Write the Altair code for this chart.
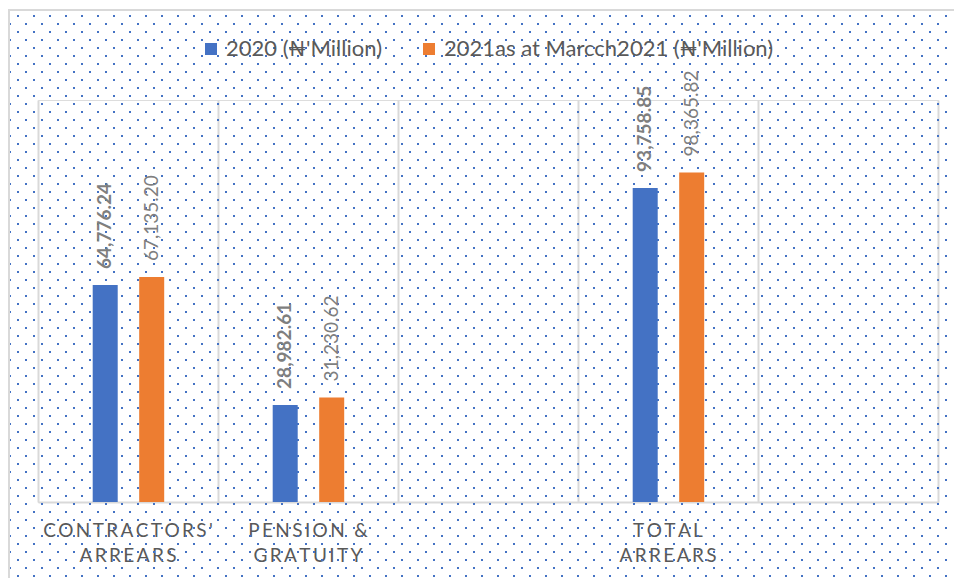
import json
import altair as alt
import pandas as pd

# ---------------- data ----------------
categories = ["CONTRACTORS' ARREARS", "PENSION & GRATUITY", "blank_a", "TOTAL ARREARS", "blank_b"]
label_line1 = ["CONTRACTORS'", "PENSION &", "", "TOTAL", ""]
label_line2 = ["ARREARS", "GRATUITY", "", "ARREARS", ""]
series = ["2020 (₦'Million)", "2021as at Marcch2021  (₦'Million)"]
values_2020 = [64776.24, 28982.61, None, 93758.85, None]
values_2021 = [67135.20, 31230.62, None, 98365.82, None]
colors = ["#4472C4", "#ED7D31"]

rows = []
for c, v1, v2 in zip(categories, values_2020, values_2021):
    if v1 is not None:
        rows.append({"category": c, "series": series[0], "value": v1})
    if v2 is not None:
        rows.append({"category": c, "series": series[1], "value": v2})
df = pd.DataFrame(rows)

# letter-spaced, two-line category labels
SP = "\u2009"
def spaced(s):
    return SP.join(list(s))

expr = "''"
for c, l1, l2 in zip(categories, label_line1, label_line2):
    if l1:
        expr = f"datum.value == {json.dumps(c)} ? [{json.dumps(spaced(l1))}, {json.dumps(spaced(l2))}] : ({expr})"

FONT = "Lato"
GRID = "#D9D9D9"

# ---------------- decorative dotted background ----------------
dots = alt.Chart(alt.sequence(0, 72 * 61, as_="i")).transform_calculate(
    row="floor(datum.i / 61)", col="datum.i % 61"
).transform_calculate(
    px="((datum.row % 2) == 0 ? 18 : 10) + 16 * datum.col - 38",
    py="16 + 8 * datum.row - 100",
).transform_filter("datum.px < 916 && datum.py < 478").mark_square(
    size=4, color="#4472C4", opacity=1
).encode(
    x=alt.X("px:Q", scale=None, axis=None),
    y=alt.Y("py:Q", scale=None, axis=None),
)

frame_df = pd.DataFrame({"k": [0]})
frame_top = alt.Chart(frame_df).mark_rule(color=GRID, strokeWidth=2).encode(
    x=alt.value(-29), x2=alt.value(916), y=alt.value(-90)
)
frame_left = alt.Chart(frame_df).mark_rule(color=GRID, strokeWidth=2).encode(
    x=alt.value(-29), y=alt.value(-91), y2=alt.value(478)
)

# ---------------- main chart ----------------
base = alt.Chart(df)
x = alt.X(
    "category:N",
    sort=categories,
    scale=alt.Scale(domain=categories, paddingInner=0, paddingOuter=0),
    axis=alt.Axis(
        title=None, grid=True, bandPosition=0, gridColor=GRID, gridWidth=2,
        domainColor=GRID, domainWidth=2, ticks=False, labelExpr=expr,
        labelFont=FONT, labelFontSize=19, labelColor="#595959", labelPadding=19,
        labelLineHeight=25, labelAngle=0, labelBaseline="top", labelLimit=0,
    ),
)
xoff = alt.XOffset(
    "series:N",
    scale=alt.Scale(domain=series, range=[54.7, 126.2], paddingInner=0.462, paddingOuter=0),
)
y = alt.Y(
    "value:Q",
    scale=alt.Scale(domain=[0, 120000], nice=False, zero=True),
    axis=alt.Axis(orient="right", labels=False, ticks=False, title=None, grid=False,
                  domainColor=GRID, domainWidth=2),
)

bars = base.mark_bar().encode(
    x=x, xOffset=xoff, y=y,
    color=alt.Color(
        "series:N",
        scale=alt.Scale(domain=series, range=colors),
        legend=alt.Legend(
            title=None, orient="none", legendX=162, legendY=-62, direction="horizontal",
            symbolType="square", symbolSize=144, symbolStrokeWidth=0,
            labelFont=FONT, labelFontSize=22, labelColor="#595959", labelLimit=0,
            labelOffset=4, columnPadding=35, padding=0,
        ),
    ),
)

t1 = base.transform_filter(alt.datum.series == series[0]).mark_text(
    angle=270, align="left", baseline="middle", dx=16,
    font=FONT, fontSize=19, fontWeight="bold", color="#7F7F7F",
).encode(x=x, xOffset=xoff, y=y, text=alt.Text("value:Q", format=",.2f"))

t2 = base.transform_filter(alt.datum.series == series[1]).mark_text(
    angle=270, align="left", baseline="middle", dx=16,
    font=FONT, fontSize=19, fontWeight="normal", color="#7F7F7F",
).encode(x=x, xOffset=xoff, y=y, text=alt.Text("value:Q", format=",.2f"))

main = alt.layer(bars, t1, t2)

chart = alt.layer(dots, frame_top, frame_left, main).resolve_scale(
    x="independent", y="independent"
).properties(
    width=900, height=402,
    autosize=alt.AutoSizeParams(type="none"),
    padding={"left": 38, "top": 100, "right": 16, "bottom": 76},
).configure_view(stroke=None).configure(background="white")

chart.save("out.html", embed_options={"renderer": "svg", "actions": False})
